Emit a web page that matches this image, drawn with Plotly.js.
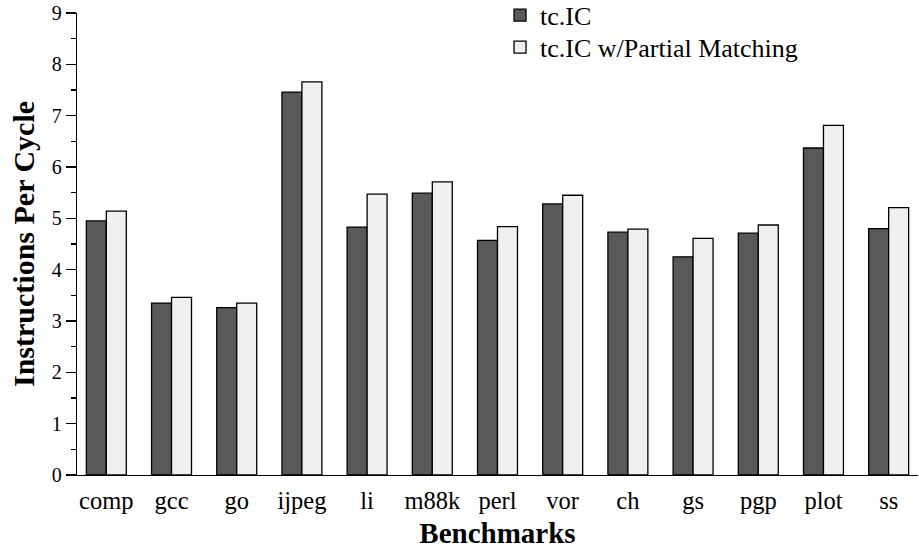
<!DOCTYPE html>
<html>
<head>
<meta charset="utf-8">
<script src="https://cdn.plot.ly/plotly-3.0.1.min.js"></script>
<style>html,body{margin:0;padding:0;background:#fff;}#chart{width:919px;height:550px;}</style>
</head>
<body>
<div id="chart"></div>
<script>
const benchmarks = ["comp","gcc","go","ijpeg","li","m88k","perl","vor","ch","gs","pgp","plot","ss"];
const tcIC = [4.95,3.35,3.26,7.46,4.83,5.49,4.57,5.28,4.73,4.25,4.71,6.37,4.80];
const tcICPartial = [5.14,3.46,3.35,7.66,5.47,5.71,4.84,5.45,4.79,4.61,4.87,6.81,5.21];
const seriesNames = ["tc.IC","tc.IC w/Partial Matching"];
const yTicks = [0,1,2,3,4,5,6,7,8,9];

const font = "'Liberation Serif','Times New Roman',Times,serif";
const traces = [
  {type:'bar', name:seriesNames[0], x:benchmarks, y:tcIC, legend:'legend',
   marker:{color:'#595959', line:{color:'#000', width:1.3}}},
  {type:'bar', name:seriesNames[1], x:benchmarks, y:tcICPartial, legend:'legend2',
   marker:{color:'#f0f0f0', line:{color:'#000', width:1.3}}}
];
const legendBase = {x:0.503, xanchor:'left', yanchor:'middle', font:{size:26, family:font},
                    bgcolor:'rgba(0,0,0,0)', borderwidth:0};
const layout = {
  width:919, height:550,
  margin:{l:77, r:1, t:13, b:75, pad:0, autoexpand:false},
  paper_bgcolor:'#fff', plot_bgcolor:'#fff',
  font:{family:font, color:'#000'},
  barmode:'group', bargap:0.387, bargroupgap:0,
  showlegend:true,
  legend:Object.assign({}, legendBase, {y:0.995}),
  legend2:Object.assign({}, legendBase, {y:0.926}),
  xaxis:{type:'category', range:[-0.45,12.45], showline:true, linecolor:'#000', linewidth:1.3,
         ticks:'', showgrid:false, zeroline:false, automargin:false,
         tickfont:{size:24.5, family:font}, ticklabelstandoff:3,
         title:{text:'<b>Benchmarks</b>', font:{size:29, family:font}, standoff:10}},
  yaxis:{range:[0,9], tickvals:yTicks, showline:true, linecolor:'#000', linewidth:1.3,
         ticks:'outside', ticklen:10, tickwidth:1.3, tickcolor:'#000',
         minor:{dtick:0.5, ticks:'outside', ticklen:5, tickwidth:1.3, tickcolor:'#000', showgrid:false},
         showgrid:false, zeroline:false, automargin:false,
         tickfont:{size:20, family:font},
         title:{text:'<b>Instructions Per Cycle</b>', font:{size:30, family:font}, standoff:8}}
};
Plotly.newPlot('chart', traces, layout, {displayModeBar:false, staticPlot:true});
</script>
</body>
</html>
